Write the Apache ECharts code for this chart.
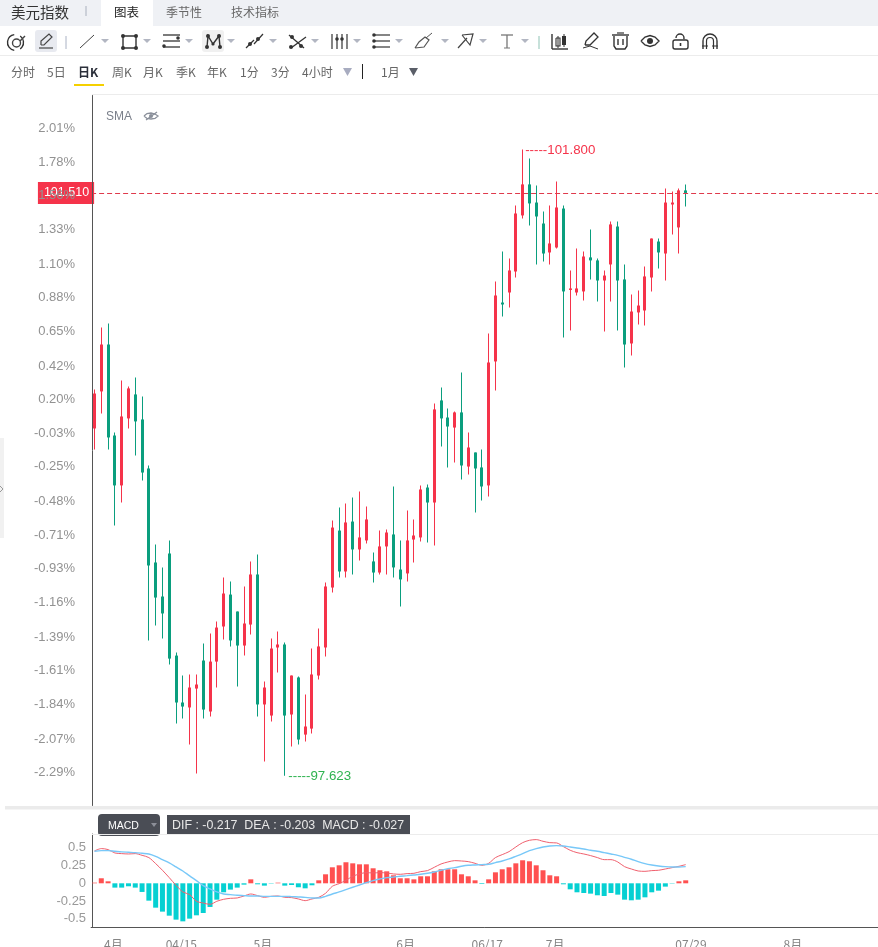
<!DOCTYPE html>
<html>
<head>
<meta charset="utf-8">
<title>美元指数</title>
<script src="https://cdn.jsdelivr.net/npm/echarts@6/dist/echarts.min.js"></script>
<style>
html,body{margin:0;padding:0;background:#fff;overflow:hidden}
#chart{width:878px;height:947px}
</style>
</head>
<body>
<div id="chart"></div>
<script>
// Daily dollar index candles, oldest first
const opens = [99.939,100.186,100.499,99.892,99.559,100.006,100.166,99.999,99.672,99.045,98.818,99.105,98.424,98.111,98.078,98.204,98.391,98.051,98.384,98.618,98.831,98.718,98.491,98.631,98.965,98.098,98.024,98.478,98.498,98.031,98.278,97.897,97.937,98.291,98.478,98.878,99.258,98.985,99.318,99.132,99.192,99.052,98.978,99.152,99.232,98.998,98.972,99.198,99.212,99.545,99.445,100.126,100.012,99.945,100.046,99.685,99.779,99.679,99.559,100.386,100.779,100.846,100.986,101.360,101.567,101.446,101.306,101.113,101.146,101.406,100.866,100.846,100.853,101.080,101.060,100.926,101.033,101.286,100.933,100.506,100.713,100.726,100.946,101.186,101.106,101.433,101.280,101.527];
const closes = [100.172,100.499,99.879,99.559,100.019,100.206,99.986,99.645,99.025,98.811,98.705,98.404,98.111,98.084,98.211,98.231,98.064,98.384,98.611,98.838,98.525,98.491,98.638,98.965,98.098,98.211,98.471,98.498,98.024,98.291,97.864,97.951,98.298,98.485,98.885,99.278,98.985,99.312,99.132,99.212,99.332,98.978,99.152,99.245,99.012,98.932,99.192,99.225,99.532,99.445,100.066,100.006,99.952,100.046,99.692,99.812,99.672,99.552,100.379,100.826,100.766,100.993,101.373,101.567,101.440,101.353,101.106,101.173,101.413,100.853,100.873,100.873,101.086,101.060,100.926,100.959,101.300,100.926,100.499,100.719,100.759,100.953,101.206,101.113,101.446,101.446,101.527,101.510];
const lows = [99.799,100.039,99.799,99.292,99.445,99.939,99.759,99.592,98.525,98.625,98.538,98.364,97.971,98.004,97.831,97.637,98.004,98.018,98.211,98.531,98.485,98.218,98.424,98.565,98.018,97.717,97.984,98.311,97.623,97.817,97.831,97.851,97.904,98.264,98.418,98.845,98.945,98.945,98.965,99.058,99.172,98.911,98.965,98.965,98.945,98.751,98.918,99.045,99.185,99.178,99.158,99.819,99.679,99.712,99.599,99.632,99.378,99.458,99.485,100.192,100.686,100.746,100.946,101.340,101.293,101.033,101.053,101.033,101.140,100.546,100.593,100.826,100.793,100.933,100.786,100.586,100.786,100.593,100.346,100.426,100.633,100.626,100.853,101.006,100.926,101.233,101.106,101.420];
const highs = [100.199,100.613,100.639,99.912,100.259,100.219,100.279,100.152,99.692,99.165,99.012,99.192,98.444,98.291,98.298,98.298,98.505,98.571,98.651,98.945,98.918,98.718,98.885,99.052,99.098,98.251,98.538,98.585,98.511,98.291,98.284,98.164,98.471,98.605,98.911,99.325,99.412,99.438,99.478,99.519,99.418,99.112,99.258,99.265,99.552,99.192,99.392,99.332,99.559,99.565,100.106,100.212,100.072,100.052,100.312,99.912,99.779,99.799,100.573,100.919,101.120,101.073,101.426,101.800,101.740,101.560,101.386,101.426,101.587,101.426,100.993,101.140,101.120,101.266,101.073,100.993,101.320,101.320,101.033,100.833,100.859,101.020,101.206,101.206,101.540,101.520,101.540,101.567];

// MACD panel
const macdBars = [0.009,0.071,0.028,-0.061,-0.061,-0.042,-0.061,-0.122,-0.245,-0.344,-0.400,-0.457,-0.513,-0.537,-0.499,-0.452,-0.419,-0.334,-0.231,-0.127,-0.089,-0.061,-0.019,0.056,-0.014,-0.033,-0.005,0.009,-0.033,-0.024,-0.056,-0.071,-0.028,0.042,0.127,0.226,0.254,0.297,0.282,0.268,0.268,0.212,0.184,0.169,0.113,0.071,0.071,0.056,0.099,0.099,0.169,0.198,0.198,0.198,0.127,0.099,0.042,-0.009,0.056,0.155,0.198,0.226,0.282,0.325,0.311,0.254,0.184,0.113,0.099,-0.014,-0.085,-0.127,-0.137,-0.146,-0.169,-0.179,-0.137,-0.160,-0.231,-0.240,-0.231,-0.198,-0.127,-0.104,-0.047,-0.005,0.028,0.042];
const difLine = [0.457,0.490,0.476,0.428,0.419,0.414,0.419,0.395,0.363,0.278,0.184,0.080,-0.028,-0.122,-0.160,-0.254,-0.278,-0.297,-0.254,-0.226,-0.212,-0.207,-0.179,-0.151,-0.174,-0.198,-0.184,-0.179,-0.198,-0.202,-0.221,-0.245,-0.221,-0.198,-0.141,-0.042,-0.005,0.042,0.099,0.132,0.151,0.146,0.151,0.146,0.132,0.127,0.137,0.141,0.165,0.179,0.226,0.273,0.301,0.320,0.315,0.306,0.282,0.254,0.282,0.363,0.405,0.447,0.513,0.574,0.607,0.617,0.593,0.574,0.570,0.518,0.466,0.433,0.414,0.391,0.363,0.334,0.334,0.301,0.235,0.202,0.174,0.169,0.179,0.184,0.202,0.221,0.240,0.264];
const deaLine = [0.452,0.461,0.461,0.452,0.443,0.438,0.433,0.424,0.414,0.381,0.334,0.287,0.231,0.174,0.104,0.038,-0.033,-0.080,-0.122,-0.151,-0.160,-0.169,-0.174,-0.179,-0.179,-0.184,-0.184,-0.184,-0.184,-0.188,-0.193,-0.198,-0.207,-0.207,-0.184,-0.151,-0.122,-0.089,-0.056,-0.024,0.009,0.038,0.061,0.080,0.089,0.099,0.108,0.118,0.127,0.141,0.160,0.184,0.207,0.221,0.240,0.254,0.259,0.264,0.268,0.292,0.315,0.344,0.381,0.419,0.461,0.490,0.513,0.527,0.532,0.527,0.513,0.499,0.485,0.466,0.452,0.433,0.414,0.395,0.367,0.339,0.306,0.278,0.259,0.245,0.235,0.231,0.231,0.235];

// Axis tick labels
const percentTicks = [2.01,1.78,1.56,1.33,1.10,0.88,0.65,0.42,0.20,-0.03,-0.25,-0.48,-0.71,-0.93,-1.16,-1.39,-1.61,-1.84,-2.07,-2.29];
const macdTicks = [0.5,0.25,0,-0.25,-0.5];
const dateLabels = ['4月','04/15','5月','6月','06/17','7月','07/29','8月'];
const dateSlots = [3,13,25,46,58,68,88,103];
const basePrice = 99.935;
const lastPrice = 101.51;
const peakPrice = 101.8;
const troughPrice = 97.623;
const peakSlot = 63, troughSlot = 28;
const macdLegend = 'DIF : -0.217  DEA : -0.203  MACD : -0.027';
const slotCount = 116;

const UP = '#f5334a', DOWN = '#0a9e7e';
const CJK = '"Noto Sans CJK SC","Liberation Sans",sans-serif';
const NUM = '"Liberation Sans",sans-serif';

const categories = Array.from({length: slotCount}, (_, i) => String(i));
const candleData = opens.map((o, i) => [i, o, closes[i], lows[i], highs[i]]);
const labelAt = {};
dateSlots.forEach((s, i) => { labelAt[s] = dateLabels[i]; });

// Candle glyph: a 1px wick behind a 3px body, snapped to whole pixels
function renderCandle(params, api) {
  const slot = api.value(0);
  const open = api.coord([slot, api.value(1)]);
  const close = api.coord([slot, api.value(2)]);
  const low = api.coord([slot, api.value(3)]);
  const high = api.coord([slot, api.value(4)]);
  const color = api.value(2) >= api.value(1) ? UP : DOWN;
  const left = Math.round(open[0] - 1.5);
  const top = Math.min(open[1], close[1]);
  const bodyH = Math.max(Math.abs(open[1] - close[1]), 1.5);
  return {
    type: 'group',
    children: [
      {type: 'rect', shape: {x: left + 1, y: high[1], width: 1, height: low[1] - high[1]}, style: {fill: color}},
      {type: 'rect', shape: {x: left, y: top, width: 3, height: bodyH}, style: {fill: color}}
    ]
  };
}

// Page furniture around the plot: tabs, drawing toolbar, period switcher
const chrome = [];
const text = (s, x, y, fill, size, extra) => chrome.push({type: 'text', silent: true, z: 50, style: Object.assign({
  text: s, x, y, fill, font: `${size || 12}px ${CJK}`, textVerticalAlign: 'middle'}, extra || {})});
const line = (x1, y1, x2, y2, stroke, w) => chrome.push({type: 'line', silent: true, z: 50,
  shape: {x1, y1, x2, y2}, style: {stroke: stroke || '#444', lineWidth: w || 1}});
const box = (x, y, width, height, fill, r) => chrome.push({type: 'rect', silent: true, z: 49,
  shape: {x, y, width, height, r: r || 0}, style: {fill}});
const dot = (cx, cy, r, fill) => chrome.push({type: 'circle', silent: true, z: 50, shape: {cx, cy, r}, style: {fill: fill || '#444'}});
const ring = (cx, cy, r, stroke, w) => chrome.push({type: 'circle', silent: true, z: 50, shape: {cx, cy, r}, style: {fill: 'none', stroke: stroke || '#444', lineWidth: w || 1.4}});
const arc = (cx, cy, r, a0, a1, w) => chrome.push({type: 'arc', silent: true, z: 50, shape: {cx, cy, r, startAngle: a0, endAngle: a1}, style: {fill: 'none', stroke: '#333', lineWidth: w || 1.4}});
const poly = (points, stroke, w, fill) => chrome.push({type: fill ? 'polygon' : 'polyline', silent: true, z: 50, shape: {points},
  style: fill ? {fill} : {fill: 'none', stroke: stroke || '#444', lineWidth: w || 1.2}});
const caret = (x, y, c) => poly([[x - 4, y - 2], [x + 4, y - 2], [x, y + 2]], null, null, c || '#b2b6c2');

box(0, 0, 878, 26, '#eff1f5');
box(101, 0, 52, 26, '#ffffff');
text('美元指数', 11, 12, '#333', 14.5);
line(86, 6, 86, 16, '#a9b0bd');
text('图表', 114, 12, '#222', 12.5);
text('季节性', 166, 12, '#666');
text('技术指标', 231, 12, '#666');
line(0, 55.5, 878, 55.5, '#ececec');
line(92, 94.5, 878, 94.5, '#ececec');

// drawing tools
arc(15.5, 42.5, 8, Math.PI * 0.55, Math.PI * 1.45); arc(15.5, 42.5, 8, Math.PI * 1.7, Math.PI * 2.3); ring(16.5, 43, 4);
line(20, 41, 25, 36, '#444', 1.4);
box(35, 30, 22, 22, '#e8eaf0', 3);
poly([[39, 48], [53, 48]]); poly([[41, 45], [41, 41], [49, 34], [52, 37], [44, 45], [41, 45]]);
line(66, 36, 66, 49, '#aab2c4');
line(80, 48, 94, 35, '#444'); caret(105, 41);
poly([[123, 36], [136, 36], [136, 48], [123, 48], [123, 36]], '#333', 1.4);
[[123, 36], [136, 36], [136, 48], [123, 48]].forEach(p => dot(p[0], p[1], 2, '#333')); caret(147, 41);
[35, 41, 47].forEach(y => line(163, y, 180, y, '#333', 1.3)); dot(178, 38, 1.8, '#333'); dot(164, 46, 1.8, '#333'); caret(189, 41);
box(202, 30, 22, 22, '#f0f0f0', 3);
poly([[207, 47], [208, 36], [213, 44], [219, 36], [220, 47]], '#333', 1.4);
[[207, 47], [208, 36], [219, 36], [220, 47]].forEach(p => dot(p[0], p[1], 2, '#333')); dot(213, 44, 1.6, '#333'); caret(231, 41);
line(246, 48, 254, 40, '#333', 1.2); line(254, 44, 263, 34, '#333', 1.2); dot(250, 44, 2, '#333'); dot(258, 39, 2, '#333'); caret(273, 41);
line(289, 35, 304, 48, '#333', 1.3); line(291, 48, 306, 37, '#333', 1.3); dot(292, 37, 2, '#333'); dot(301, 46, 2, '#333'); dot(291, 47, 2, '#333'); caret(315, 41);
[332, 337, 342, 347].forEach(x => line(x, 34, x, 49, '#333', 1.2)); dot(337, 39, 1.8, '#333'); dot(342, 39, 1.8, '#333'); caret(357, 41);
[35, 41, 47].forEach(y => line(373, y, 390, y, '#333', 1.2)); dot(374, 35, 1.8, '#333'); dot(374, 41, 1.8, '#333'); dot(374, 47, 1.8, '#333'); caret(399, 41);
poly([[415, 48], [424, 47], [429, 40], [425, 37], [419, 42], [415, 48]], '#555', 1.2); line(426, 38, 432, 33, '#555'); caret(445, 41);
poly([[458, 48], [467, 38]], '#444', 1.2); poly([[462, 35], [473, 34], [470, 45], [466, 40], [462, 35]], '#444', 1.2); caret(483, 41);
line(501, 35, 513, 35, '#777', 1.3); line(507, 35, 507, 48, '#777', 1.3); line(504, 48, 510, 48, '#777', 1); caret(525, 41);
line(539, 36, 539, 49, '#8fc3b5');

// chart and utility tools
line(552, 34, 552, 49, '#333', 1.4); line(552, 49, 568, 49, '#333', 1.4);
box(556, 38, 4, 8, '#ffffff'); poly([[556, 38], [560, 38], [560, 46], [556, 46], [556, 38]], '#333', 1.1); box(562, 36, 4, 9, '#333');
line(558, 36, 558, 48, '#333'); line(564, 34, 564, 47, '#333');
poly([[585, 45], [586, 41], [594, 33], [598, 37], [590, 45], [585, 45]], '#333', 1.3); poly([[583, 48], [590, 46], [598, 49]], '#333', 1);
line(612, 35, 629, 35, '#333', 1.4); line(617, 33, 624, 33, '#333', 1.2);
poly([[614, 36], [614, 46], [616, 49], [625, 49], [627, 46], [627, 36]], '#333', 1.4); line(618, 39, 618, 45, '#333', 1.4); line(623, 39, 623, 45, '#333', 1.4);
poly([[641, 41], [645, 37], [650, 35.5], [655, 37], [659, 41], [655, 45], [650, 46.5], [645, 45], [641, 41]], '#333', 1.4); dot(650, 41, 3, '#333');
chrome.push({type: 'rect', silent: true, z: 50, shape: {x: 673, y: 40, width: 15, height: 9, r: 2}, style: {fill: 'none', stroke: '#333', lineWidth: 1.4}});
arc(680, 38, 4, Math.PI, Math.PI * 2.1);
line(680.5, 43, 680.5, 46, '#333', 1.6);
arc(710, 41, 7, Math.PI, Math.PI * 2); arc(710, 41, 3.5, Math.PI, Math.PI * 2, 1.2);
line(703, 41, 703, 49, '#333', 1.4); line(717, 41, 717, 49, '#333', 1.4); line(706.5, 41, 706.5, 49, '#333', 1.2); line(713.5, 41, 713.5, 49, '#333', 1.2);
line(702, 46, 708, 46, '#333', 1); line(712, 46, 718, 46, '#333', 1);

// period switcher
[['分时', 11], ['5日', 47], ['周K', 112], ['月K', 143], ['季K', 176], ['年K', 207], ['1分', 240], ['3分', 271], ['4小时', 302], ['1月', 381]]
  .forEach(p => text(p[0], p[1], 72, '#666'));
text('日K', 78, 72, '#2b2f3a', 12, {font: `bold 12px ${CJK}`});
box(74, 84, 30, 2, '#f5d000');
poly([[343, 68], [352, 68], [347.5, 76]], null, null, '#a8acc0');
line(362.5, 64, 362.5, 79, '#222');
poly([[409, 68], [418, 68], [413.5, 76]], null, null, '#5a5e68');

// indicator captions
text('SMA', 106, 116.5, '#7a7f8a', 12, {font: `12px ${NUM}`});
poly([[144, 116], [147, 113.5], [151, 113], [155, 114], [158, 116], [155, 118.5], [151, 119], [147, 118.5], [144, 116]], '#8a8f9a', 1.3);
dot(151, 116, 2, '#8a8f9a'); line(146, 120, 157, 112, '#8a8f9a', 1.2);

// collapse handle and panel divider
box(0, 438, 4, 100, '#f1f1f1');
poly([[0, 486], [3, 489], [0, 492]], '#999', 1);
box(5, 806, 873, 3.5, '#ebebeb');
line(92, 834.5, 878, 834.5, '#ececec');

// MACD caption boxes
box(98, 814, 62, 22, '#4a4d55', 4);
text('MACD', 108, 826, '#fff', 10.5, {font: `10.5px ${NUM}`});
poly([[151, 823], [157, 823], [154, 827]], null, null, '#8c8f98');
box(167, 815, 243, 20, '#4a4d55', 0);
text(macdLegend, 172, 825.5, '#e8e8e8', 12.4, {font: `12.4px ${NUM}`});

const chart = echarts.init(document.getElementById('chart'), null, {renderer: 'canvas'});
chart.setOption({
  animation: false,
  backgroundColor: '#ffffff',
  graphic: {elements: chrome},
  grid: [
    {left: 91.1, top: 95.5, width: 788.3, height: 710, outerBoundsMode: 'none'},
    {left: 91.1, top: 834, width: 788.3, height: 93.5, outerBoundsMode: 'none'}
  ],
  xAxis: [
    {type: 'category', gridIndex: 0, data: categories, boundaryGap: true,
      axisLine: {show: false}, axisTick: {show: false}, axisLabel: {show: false}, splitLine: {show: false}},
    {type: 'category', gridIndex: 1, data: categories, boundaryGap: true,
      axisLine: {onZero: false, lineStyle: {color: '#555', width: 1}}, axisTick: {show: false}, splitLine: {show: false},
      axisLabel: {show: true, margin: 11, color: '#858585', fontSize: 12, fontFamily: CJK, hideOverlap: false, padding: [0, 3, 0, 0],
        interval: (i) => labelAt[i] !== undefined, formatter: (v) => labelAt[v] || ''}}
  ],
  yAxis: [
    {type: 'value', gridIndex: 0, min: 97.424, max: 102.16, offset: -1, z: 10,
      axisLine: {show: true, lineStyle: {color: '#555', width: 1}}, axisTick: {show: false}, splitLine: {show: false},
      axisLabel: {color: '#929292', fontSize: 13, fontFamily: NUM, margin: 17, padding: [3, 0, 0, 0],
        customValues: percentTicks.map(p => basePrice * (1 + p / 100)),
        formatter: (v) => ((v / basePrice - 1) * 100).toFixed(2) + '%'}},
    {type: 'value', gridIndex: 1, min: -0.624, max: 0.696, offset: -1,
      axisLine: {show: true, lineStyle: {color: '#555', width: 1}}, axisTick: {show: false}, splitLine: {show: false},
      axisLabel: {color: '#999', fontSize: 13, fontFamily: NUM, margin: 6, padding: [2, 0, 0, 0], customValues: macdTicks,
        formatter: (v) => String(v)}}
  ],
  series: [
    {type: 'custom', xAxisIndex: 0, yAxisIndex: 0, data: candleData, clip: false, z: 2,
      renderItem: renderCandle, encode: {x: 0, y: [1, 2, 3, 4]},
      markLine: {silent: true, symbol: 'none', animation: false, z: 3,
        data: [{yAxis: lastPrice}],
        lineStyle: {color: '#df3a4c', type: [5, 3], width: 1},
        label: {position: 'start', formatter: lastPrice.toFixed(3), color: '#fff', fontSize: 12.5, fontFamily: NUM,
          backgroundColor: UP, padding: [5, 5, 4, 6], distance: -3}},
      markPoint: {silent: true, animation: false, symbol: 'circle', symbolSize: 1, itemStyle: {color: 'rgba(0,0,0,0)'},
        data: [
          {coord: [String(peakSlot), peakPrice], label: {position: 'right', distance: 2, offset: [0, 0.5], formatter: '-----' + peakPrice.toFixed(3), color: UP, fontSize: 13.3, fontFamily: NUM}},
          {coord: [String(troughSlot), troughPrice], label: {position: 'right', distance: 3, offset: [0, 0.5], formatter: '-----' + troughPrice.toFixed(3), color: '#2fb350', fontSize: 13.3, fontFamily: NUM}}
        ]}
    },
    {type: 'bar', xAxisIndex: 1, yAxisIndex: 1, barWidth: 5, z: 1,
      data: macdBars.map(v => ({value: v, itemStyle: {color: v >= 0 ? '#ff5050' : '#06d0d2'}}))},
    {type: 'line', xAxisIndex: 1, yAxisIndex: 1, data: difLine, symbol: 'none', smooth: 0.3, z: 3,
      lineStyle: {color: '#f0606e', width: 1}},
    {type: 'line', xAxisIndex: 1, yAxisIndex: 1, data: deaLine, symbol: 'none', smooth: 0.3, z: 4,
      lineStyle: {color: '#78c8f8', width: 1.4}}
  ]
});
</script>
</body>
</html>
